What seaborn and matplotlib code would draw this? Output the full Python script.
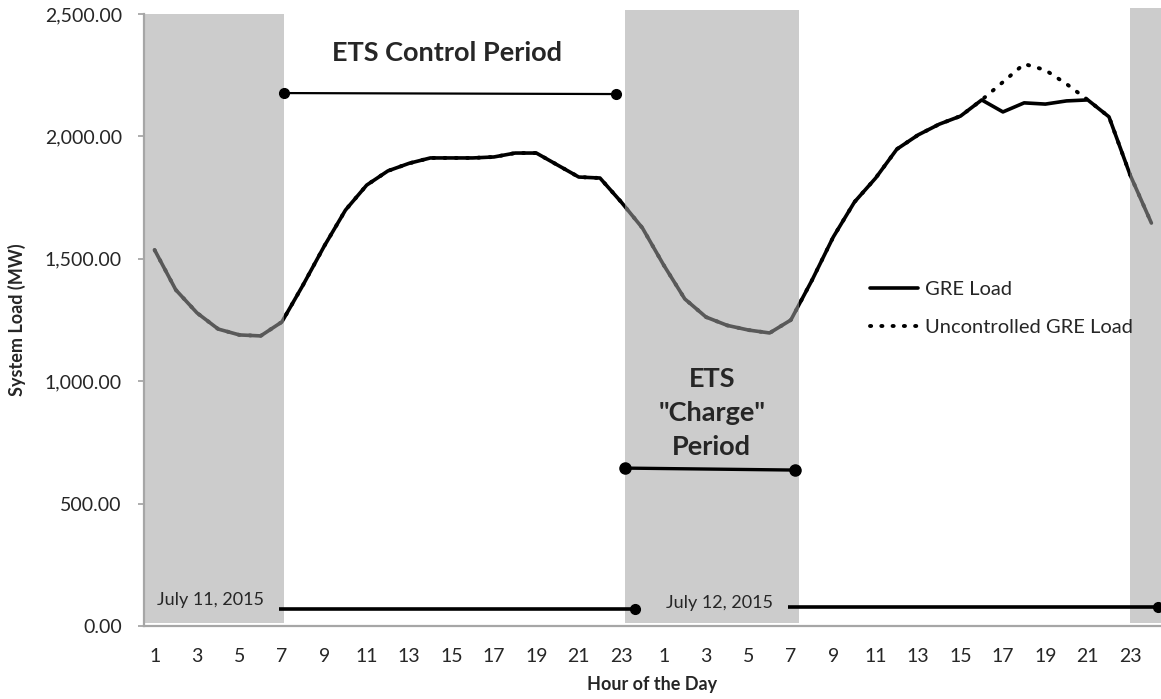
import numpy as np
import pandas as pd
import matplotlib
matplotlib.use("Agg")
import matplotlib.pyplot as plt
from matplotlib.patches import Rectangle
from matplotlib.ticker import FuncFormatter
import seaborn as sns

sns.set_style("white")
plt.rcParams['font.family'] = ['Lato', 'DejaVu Sans']

# two days of hourly system load (MW), July 11-12 2015
hours = [1, 2, 3, 4, 5, 6, 7, 8, 9, 10, 11, 12, 13, 14, 15, 16, 17, 18, 19, 20, 21, 22, 23, 24,
         1, 2, 3, 4, 5, 6, 7, 8, 9, 10, 11, 12, 13, 14, 15, 16, 17, 18, 19, 20, 21, 22, 23, 24]
gre_load = [1536, 1373, 1279, 1213, 1189, 1185, 1242, 1393, 1552, 1699, 1801, 1859,
            1890, 1912, 1912, 1912, 1916, 1932, 1932, 1883, 1834, 1830, 1732, 1626,
            1475, 1336, 1262, 1228, 1209, 1197, 1250, 1413, 1589, 1732, 1830, 1948,
            2006, 2050, 2083, 2149, 2100, 2137, 2132, 2145, 2149, 2080, 1842, 1646]
uncontrolled_load = [1536, 1373, 1279, 1213, 1189, 1185, 1242, 1393, 1552, 1699, 1801, 1859,
                     1890, 1912, 1912, 1912, 1916, 1932, 1932, 1883, 1834, 1830, 1732, 1626,
                     1475, 1336, 1262, 1228, 1209, 1197, 1250, 1413, 1589, 1732, 1830, 1948,
                     2006, 2050, 2083, 2149, 2222, 2296, 2271, 2214, 2149, 2080, 1842, 1646]

# shaded "charge" windows (category positions)
shade_start = [-0.47, 22.17, 46.0]
shade_end = [6.08, 30.38, 47.6]
shade_top = [2500, 2515, 2525]

df = pd.DataFrame({'pos': np.arange(len(hours)), 'GRE Load': gre_load,
                   'Uncontrolled GRE Load': uncontrolled_load})

fig = plt.figure(figsize=(11.61, 6.99), dpi=100)
ax = fig.add_axes([144 / 1161, 73 / 699, 1018 / 1161, 612 / 699])

sns.lineplot(x='pos', y='Uncontrolled GRE Load', data=df, ax=ax, color='black',
             lw=2.8, label='Uncontrolled GRE Load', zorder=2)
ax.lines[-1].set_linestyle((0, (0.3, 2.6)))
ax.lines[-1].set_dash_capstyle('round')
sns.lineplot(x='pos', y='GRE Load', data=df, ax=ax, color='black', lw=2.6,
             label='GRE Load', zorder=2.5)

for x0, x1, top in zip(shade_start, shade_end, shade_top):
    ax.add_patch(Rectangle((x0, 12), x1 - x0, top - 12, facecolor='#a3a3a3', alpha=0.55,
                           edgecolor='none', zorder=3, clip_on=False))

# period markers
ax.plot([6.08, 21.75], [2177, 2173], color='black', lw=1.6, marker='o', ms=7, zorder=4)
ax.text(13.77, 2340, 'ETS Control Period', ha='center', va='center', fontsize=19.5,
        fontweight='bold', zorder=5)
ax.plot([22.2, 30.2], [645, 637], color='black', lw=2.4, marker='o', ms=8, zorder=4)
ax.text(26.27, 872, 'ETS\n"Charge"\nPeriod', ha='center', va='center', fontsize=19.5,
        fontweight='bold', linespacing=1.5, zorder=5)
ax.plot([5.85, 22.64], [69, 69], color='black', lw=2.6, marker='o', ms=7, markevery=[1],
        solid_capstyle='butt', zorder=4)
ax.text(2.64, 106, 'July 11, 2015', ha='center', va='center', fontsize=13, zorder=5)
ax.plot([29.86, 47.3], [78, 78], color='black', lw=2.6, marker='o', ms=7, markevery=[1],
        solid_capstyle='butt', zorder=4, clip_on=False)
ax.text(26.65, 95, 'July 12, 2015', ha='center', va='center', fontsize=13, zorder=5)

ax.set_xlim(-0.5, 47.5)
ax.set_ylim(0, 2500)
ax.set_xticks(np.arange(0, len(hours), 2))
ax.set_xticklabels(hours[::2])
ax.set_yticks([0, 500, 1000, 1500, 2000, 2500])
ax.yaxis.set_major_formatter(FuncFormatter(lambda v, p: f'{v:,.2f}'))
ax.tick_params(axis='x', length=0, pad=16, labelsize=14)
ax.tick_params(axis='y', length=4, width=1.2, color='#a0a0a0', pad=12, labelsize=14, left=True)

for side in ['top', 'right']:
    ax.spines[side].set_visible(False)
for side in ['left', 'bottom']:
    ax.spines[side].set_color('#a6a6a6')
    ax.spines[side].set_linewidth(1.6)

ax.set_xlabel('Hour of the Day', fontsize=13, fontweight='bold', va='center')
ax.set_ylabel('System Load (MW)', fontsize=13, fontweight='bold', va='center')
ax.xaxis.set_label_coords(0.499, -0.095)
ax.yaxis.set_label_coords(-0.125, 0.5)

h, l = ax.get_legend_handles_labels()
ax.legend(h[::-1], l[::-1], loc='center left', bbox_to_anchor=(870 / 1161, 1 - 308.5 / 699),
          bbox_transform=fig.transFigure, frameon=False, fontsize=14.5, handlelength=2.4,
          handletextpad=0.35, borderpad=0, borderaxespad=0, labelspacing=1.05)

fig.savefig('out.png', dpi=100)
